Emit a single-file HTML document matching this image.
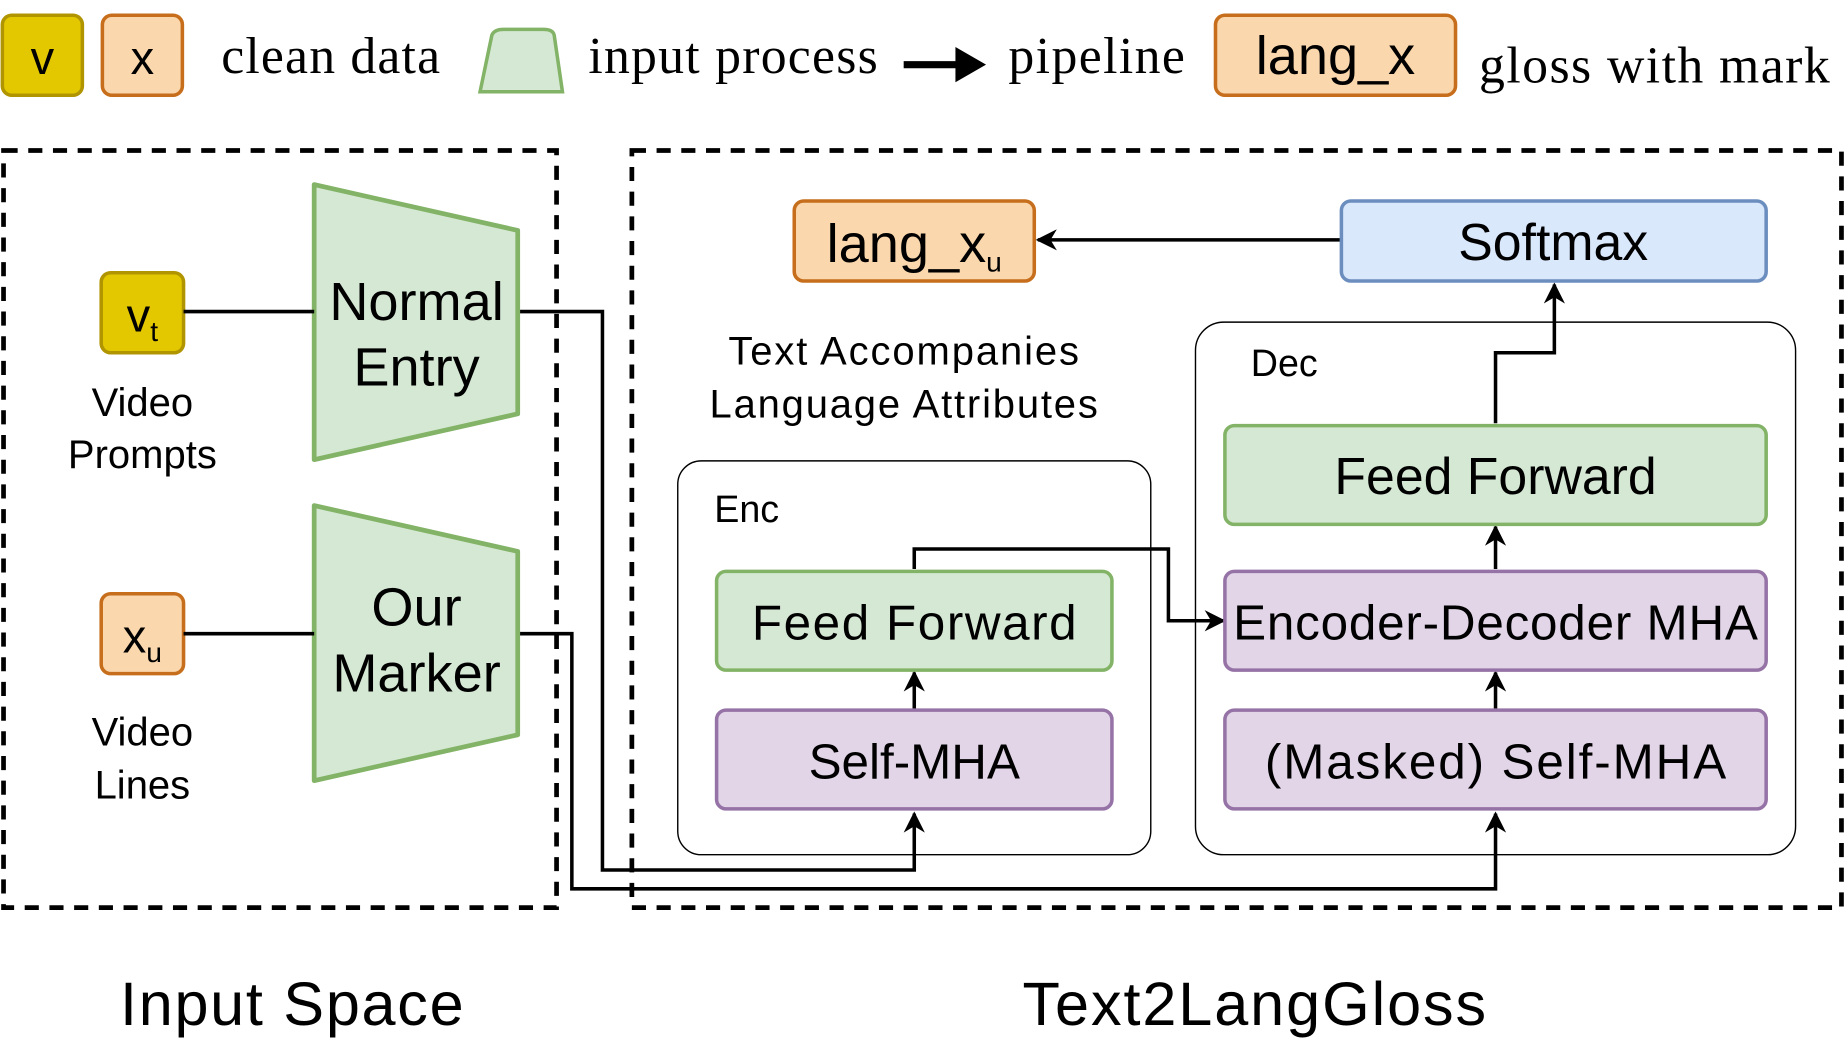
<!DOCTYPE html>
<html><head><meta charset="utf-8"><style>
html,body{margin:0;padding:0;background:#fff;}
svg{display:block;}
text{font-family:"Liberation Sans",sans-serif;fill:#000;}
.s{font-family:"Liberation Serif",serif;}
</style></head><body>
<svg width="1845" height="1044" viewBox="0 0 1568 888" preserveAspectRatio="none" xmlns="http://www.w3.org/2000/svg">
<defs><marker id="a" viewBox="0 0 10 10" refX="9" refY="5" markerWidth="6" markerHeight="6" orient="auto"><path d="M0,0 L10,5 L0,10 L3,5 z" fill="#000"/></marker></defs>
<rect x="2" y="13" width="68" height="68" rx="8" fill="#e3c800" stroke="#b09500" stroke-width="3"/>
<text x="36" y="63" font-size="40" text-anchor="middle">v</text>
<rect x="87" y="13" width="68" height="68" rx="8" fill="#fad7ac" stroke="#c66e1b" stroke-width="3"/>
<text x="121" y="63" font-size="40" text-anchor="middle">x</text>
<text class="s" x="188" y="62" font-size="44" textLength="186">clean data</text>
<path d="M418,30 Q420,25 428,25 L462,25 Q470,25 471,30 L478,78 L408,78 Z" fill="#d5e8d4" stroke="#82b366" stroke-width="3"/>
<text class="s" x="500" y="62" font-size="44" textLength="246">input process</text>
<line x1="768" y1="55" x2="818" y2="55" stroke="#000" stroke-width="6"/>
<path d="M812,40 L838,55 L812,70 Z" fill="#000"/>
<text class="s" x="857" y="62" font-size="44" textLength="150">pipeline</text>
<rect x="1033" y="13" width="204" height="68" rx="8" fill="#fad7ac" stroke="#c66e1b" stroke-width="3"/>
<text x="1135" y="63" font-size="46" text-anchor="middle">lang_x</text>
<text class="s" x="1257" y="70" font-size="44" textLength="298">gloss with mark</text>
<rect x="3" y="128" width="470" height="644" fill="none" stroke="#000" stroke-width="4" stroke-dasharray="12,9"/>
<rect x="537" y="128" width="1028" height="644" fill="none" stroke="#000" stroke-width="4" stroke-dasharray="12,9"/>
<rect x="86" y="232" width="70" height="68" rx="8" fill="#e3c800" stroke="#b09500" stroke-width="3"/>
<text x="121" y="282" font-size="40" text-anchor="middle">v<tspan font-size="24" dy="8">t</tspan></text>
<rect x="86" y="505" width="70" height="68" rx="8" fill="#fad7ac" stroke="#c66e1b" stroke-width="3"/>
<text x="121" y="555" font-size="40" text-anchor="middle">x<tspan font-size="24" dy="8">u</tspan></text>
<text x="121" y="354" font-size="34" text-anchor="middle">Video</text>
<text x="121" y="398" font-size="34" text-anchor="middle">Prompts</text>
<text x="121" y="634" font-size="34" text-anchor="middle">Video</text>
<text x="121" y="679" font-size="34" text-anchor="middle">Lines</text>
<path d="M267,157 L440,196 L440,352 L267,391 Z" fill="#d5e8d4" stroke="#82b366" stroke-width="4" stroke-linejoin="round"/>
<path d="M267,430 L440,469 L440,625 L267,664 Z" fill="#d5e8d4" stroke="#82b366" stroke-width="4" stroke-linejoin="round"/>
<text x="354" y="272" font-size="46" text-anchor="middle">Normal</text>
<text x="354" y="328" font-size="46" text-anchor="middle">Entry</text>
<text x="354" y="532" font-size="46" text-anchor="middle">Our</text>
<text x="354" y="588" font-size="46" text-anchor="middle">Marker</text>
<g stroke="#000" stroke-width="3" fill="none">
<line x1="156" y1="265" x2="267" y2="265"/>
<line x1="156" y1="539" x2="267" y2="539"/>
<polyline points="442,265 512,265 512,740 777,740 777,692" marker-end="url(#a)"/>
<polyline points="442,539 486,539 486,756 1271,756 1271,692" marker-end="url(#a)"/>
<line x1="1140" y1="204" x2="882" y2="204" marker-end="url(#a)"/>
<polyline points="1271,360 1271,300 1321,300 1321,242" marker-end="url(#a)"/>
<line x1="777" y1="603" x2="777" y2="572" marker-end="url(#a)"/>
<line x1="1271" y1="603" x2="1271" y2="572" marker-end="url(#a)"/>
<line x1="1271" y1="484" x2="1271" y2="448" marker-end="url(#a)"/>
<polyline points="777,484 777,467 993,467 993,528 1040,528" marker-end="url(#a)"/>
</g>
<rect x="576" y="392" width="402" height="335" rx="20" fill="none" stroke="#000" stroke-width="1.2"/>
<rect x="1016" y="274" width="510" height="453" rx="24" fill="none" stroke="#000" stroke-width="1.2"/>
<text x="607" y="444" font-size="32">Enc</text>
<text x="1063" y="320" font-size="32">Dec</text>
<text x="768" y="310" font-size="34" text-anchor="middle" textLength="298">Text Accompanies</text>
<text x="768" y="355" font-size="34" text-anchor="middle" textLength="330">Language Attributes</text>
<rect x="675" y="171" width="204" height="68" rx="8" fill="#fad7ac" stroke="#c66e1b" stroke-width="3"/>
<text x="777" y="223" font-size="46" text-anchor="middle">lang_x<tspan font-size="24" dy="8">u</tspan></text>
<rect x="1140" y="171" width="361" height="68" rx="8" fill="#dae8fc" stroke="#6c8ebf" stroke-width="3"/>
<text x="1320" y="221" font-size="44" text-anchor="middle">Softmax</text>
<rect x="1041" y="362" width="460" height="84" rx="8" fill="#d5e8d4" stroke="#82b366" stroke-width="3"/>
<text x="1271" y="420" font-size="44" text-anchor="middle">Feed Forward</text>
<rect x="1041" y="486" width="460" height="84" rx="8" fill="#e1d5e7" stroke="#9673a6" stroke-width="3"/>
<text x="1271" y="544" font-size="42" text-anchor="middle" textLength="446">Encoder-Decoder MHA</text>
<rect x="1041" y="604" width="460" height="84" rx="8" fill="#e1d5e7" stroke="#9673a6" stroke-width="3"/>
<text x="1271" y="662" font-size="42" text-anchor="middle" textLength="392">(Masked) Self-MHA</text>
<rect x="609" y="486" width="336" height="84" rx="8" fill="#d5e8d4" stroke="#82b366" stroke-width="3"/>
<text x="777" y="544" font-size="42" text-anchor="middle" textLength="276">Feed Forward</text>
<rect x="609" y="604" width="336" height="84" rx="8" fill="#e1d5e7" stroke="#9673a6" stroke-width="3"/>
<text x="777" y="662" font-size="42" text-anchor="middle">Self-MHA</text>
<text x="248" y="872" font-size="52" text-anchor="middle" textLength="292">Input Space</text>
<text x="1066" y="872" font-size="52" text-anchor="middle" textLength="394">Text2LangGloss</text>
</svg>
</body></html>
